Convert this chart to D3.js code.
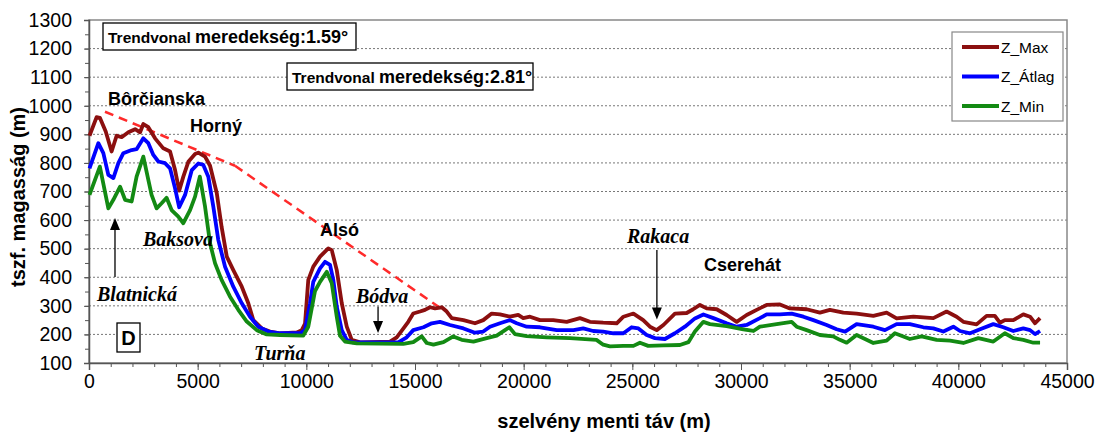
<!DOCTYPE html>
<html>
<head>
<meta charset="utf-8">
<script src="https://cdn.jsdelivr.net/npm/d3@7"></script>
<style>
  body { margin: 0; background: #fff; }
  svg { display: block; font-family: 'Liberation Sans', Arial, sans-serif; }
</style>
</head>
<body>
<div id="chart"></div>
<script>
// distance along profile (m), elevation (m)
var zMax = [[23,895],[350,960],[500,958],[770,910],[1040,840],[1270,895],[1500,890],[1810,907],[2120,918],[2350,907],[2500,936],[2730,925],[3040,886],[3420,851],[3730,840],[3960,775],[4150,703],[4340,752],[4570,804],[4880,831],[5030,836],[5340,822],[5570,790],[5880,694],[6100,577],[6340,472],[6640,425],[7030,367],[7330,309],[7560,250],[7950,221],[8330,210],[8790,204],[9560,207],[9790,215],[9940,238],[10090,391],[10320,437],[10630,472],[11010,501],[11170,495],[11400,425],[11630,309],[11860,227],[12090,181],[12470,172],[13850,175],[14160,190],[14460,220],[14690,244],[14920,273],[15230,280],[15460,286],[15690,295],[15920,291],[16230,295],[16460,280],[16690,257],[17230,250],[17760,239],[18140,250],[18530,273],[18910,270],[19370,262],[19750,268],[19980,257],[20290,262],[20750,250],[21360,250],[21980,244],[22590,257],[23050,244],[23660,241],[24280,239],[24590,262],[25050,273],[25500,250],[25810,227],[26120,215],[26430,233],[26960,273],[27500,275],[27800,288],[28110,303],[28420,291],[28880,288],[29340,268],[29800,244],[30260,268],[30720,286],[31180,303],[31790,305],[32250,291],[33020,288],[33630,276],[34090,286],[34710,276],[35320,273],[36090,265],[36700,276],[37160,256],[37930,262],[38850,257],[39460,280],[39920,262],[40230,244],[40840,235],[41300,265],[41680,265],[41910,241],[42140,250],[42530,250],[42990,270],[43300,262],[43530,239],[43760,257]];

var zAtlag = [[23,781],[430,869],[660,834],[890,758],[1120,747],[1350,799],[1580,834],[1960,845],[2190,848],[2500,886],[2730,869],[2960,828],[3190,805],[3500,799],[3730,781],[3960,711],[4150,645],[4420,688],[4730,775],[5030,798],[5260,793],[5490,752],[5720,647],[5950,530],[6260,437],[6640,367],[7030,309],[7410,262],[7790,227],[8250,210],[8790,204],[9710,204],[9940,215],[10170,309],[10320,384],[10630,431],[10860,454],[11090,443],[11240,391],[11400,297],[11630,215],[11860,181],[12160,172],[14230,172],[14620,190],[14920,215],[15390,225],[15770,239],[16150,244],[16610,233],[17230,221],[17760,206],[18140,210],[18450,227],[18910,239],[19370,250],[19680,239],[20140,227],[20750,225],[21520,215],[22290,215],[22740,221],[23200,212],[23660,210],[24130,204],[24590,204],[24970,225],[25280,221],[25660,198],[26040,187],[26500,184],[26960,204],[27420,227],[27880,256],[28270,270],[28730,257],[29340,239],[29800,227],[30260,233],[30870,257],[31180,270],[31790,270],[32330,273],[32870,262],[33330,250],[33940,233],[34400,218],[34790,210],[35320,236],[36090,227],[36620,215],[37160,236],[37770,236],[38390,225],[38850,221],[39310,210],[39770,227],[40080,212],[40540,204],[41000,218],[41610,236],[42070,225],[42530,212],[42990,221],[43300,215],[43530,201],[43760,212]];

var zMin = [[23,688],[500,787],[890,641],[1120,671],[1430,717],[1660,671],[1960,665],[2190,752],[2500,822],[2730,741],[2880,688],[3110,641],[3340,659],[3570,678],[3800,635],[4110,612],[4340,589],[4650,635],[4880,682],[5100,752],[5340,647],[5570,519],[5800,449],[6100,391],[6490,332],[6870,286],[7260,245],[7720,215],[8180,200],[8790,198],[9860,196],[10090,227],[10400,352],[10630,384],[10940,419],[11170,379],[11400,262],[11550,195],[11780,175],[12320,169],[14460,167],[14920,173],[15310,193],[15540,170],[15850,164],[16310,173],[16760,193],[17150,181],[17690,175],[18300,187],[18760,196],[19140,215],[19340,225],[19600,201],[20140,194],[21060,190],[22130,187],[23350,181],[23660,164],[23970,158],[24590,160],[25050,160],[25350,171],[25730,160],[26430,162],[27190,163],[27580,173],[27880,210],[28270,244],[28570,236],[29340,229],[30110,218],[30570,212],[30870,227],[31640,236],[32330,244],[32560,227],[33020,215],[33630,198],[34240,193],[34550,181],[34860,171],[35320,198],[36090,170],[36700,178],[37080,204],[37770,184],[38310,193],[39000,181],[39620,178],[40230,170],[40920,187],[41610,175],[42140,204],[42530,187],[42990,181],[43450,171],[43760,171]];

// two linear trend segments (dashed red)
var trend1 = [[736,979],[6718,790]];
var trend2 = [[6718,790],[16288,286]];

var xTickValues = [0,5000,10000,15000,20000,25000,30000,35000,40000,45000];
var yTickValues = [100,200,300,400,500,600,700,800,900,1000,1100,1200,1300];

var seriesNames = ['Z_Max', 'Z_Átlag', 'Z_Min'];
var seriesColors = ['#8b0f0f', '#0000ff', '#138a13'];

// place names: [label, distance, elevation, kind]
var places = [
  ['Bôrčianska', 874, 1003, 'ridge'],
  ['Horný', 4647, 908, 'ridge'],
  ['Alsó', 10630, 544, 'ridge'],
  ['Cserehát', 28300, 422, 'ridge'],
  ['Baksova', 2485, 509, 'river'],
  ['Blatnická', 368, 317, 'river'],
  ['Turňa', 7590, 110, 'river'],
  ['Bódva', 12285, 310, 'river'],
  ['Rakaca', 24755, 520, 'river']
];
// arrows: [distance, from elevation, to elevation]
var arrows = [[1196, 401, 607], [13300, 298, 205], [26130, 495, 252]];

var margin = { top: 20, right: 33, bottom: 72, left: 89 };
var width = 1100 - margin.left - margin.right;
var height = 435 - margin.top - margin.bottom;

var x = d3.scaleLinear().domain([0, 45000]).range([0, width]);
var y = d3.scaleLinear().domain([100, 1300]).range([height, 0]);

var svg = d3.select('#chart').append('svg')
    .attr('width', 1100)
    .attr('height', 435);

var g = svg.append('g')
    .attr('transform', `translate(${margin.left}, ${margin.top})`);

// grid lines
g.append('g')
    .selectAll('line')
    .data(yTickValues.slice(1, -1))
    .join('line')
    .attr('x1', 0).attr('x2', width)
    .attr('y1', d => y(d)).attr('y2', d => y(d))
    .attr('stroke', '#555')
    .attr('stroke-width', 0.8)
    .attr('stroke-dasharray', '2,2');

// frame
g.append('rect')
    .attr('width', width).attr('height', height)
    .attr('fill', 'none')
    .attr('stroke', '#888')
    .attr('stroke-width', 1.5);

// minor ticks
var xMinor = d3.axisBottom(x).tickValues(d3.range(0, 45001, 1000)).tickSize(4).tickFormat('');
var yMinor = d3.axisLeft(y).tickValues(d3.range(100, 1301, 50)).tickSize(4).tickFormat('');
g.append('g').attr('transform', `translate(0,${height})`).call(xMinor);
g.append('g').call(yMinor);

var xAxis = d3.axisBottom(x).tickValues(xTickValues).tickSize(7).tickPadding(4).tickFormat(d3.format('d'));
var yAxis = d3.axisLeft(y).tickValues(yTickValues).tickSize(5).tickPadding(12).tickFormat(d3.format('d'));

g.append('g').attr('class', 'x-axis')
    .attr('transform', `translate(0,${height})`)
    .call(xAxis);
g.append('g').attr('class', 'y-axis').call(yAxis);

g.selectAll('.x-axis text, .y-axis text')
    .style('font-size', '19.5px')
    .style('fill', '#000');
g.selectAll('.x-axis path, .y-axis path').attr('stroke', '#555').attr('stroke-width', 1.5);
g.selectAll('.tick line').attr('stroke', '#555');

// trend lines
[trend1, trend2].forEach(function (t) {
    g.append('path')
        .datum(t)
        .attr('fill', 'none')
        .attr('stroke', '#ff2a2a')
        .attr('stroke-width', 2.5)
        .attr('stroke-dasharray', '9,6')
        .attr('d', d3.line().x(d => x(d[0])).y(d => y(d[1])));
});

// profile lines
var line = d3.line().x(d => x(d[0])).y(d => y(d[1]));
[zMax, zAtlag, zMin].forEach(function (s, i) {
    g.append('path')
        .datum(s)
        .attr('fill', 'none')
        .attr('stroke', seriesColors[i])
        .attr('stroke-width', 3.8)
        .attr('stroke-linejoin', 'round')
        .attr('d', line);
});

// place names
g.selectAll('.place')
    .data(places)
    .join('text')
    .attr('class', 'place')
    .attr('x', d => x(d[1]))
    .attr('y', d => y(d[2]))
    .text(d => d[0])
    .style('font-weight', 'bold')
    .style('font-size', d => d[3] === 'ridge' ? '18px' : '20px')
    .style('font-style', d => d[3] === 'ridge' ? 'normal' : 'italic')
    .style('font-family', d => d[3] === 'ridge' ? "'Liberation Sans', Arial" : "'Liberation Serif', 'Times New Roman', serif");

// arrows
arrows.forEach(function (a) {
    var ax = x(a[0]), y0 = y(a[1]), y1 = y(a[2]);
    var dir = y1 < y0 ? 1 : -1;
    g.append('line')
        .attr('x1', ax).attr('x2', ax)
        .attr('y1', y0).attr('y2', y1 + dir * 10)
        .attr('stroke', '#000').attr('stroke-width', 1.3);
    g.append('path')
        .attr('d', `M${ax},${y1} L${ax - 5},${y1 + dir * 12} L${ax + 5},${y1 + dir * 12} Z`)
        .attr('fill', '#000');
});

// "D" box
var dBox = svg.append('g').attr('transform', 'translate(117,323)');
dBox.append('rect').attr('width', 23).attr('height', 29)
    .attr('fill', '#fff').attr('stroke', '#000').attr('stroke-width', 1.3);
dBox.append('text').attr('x', 11.5).attr('y', 22).attr('text-anchor', 'middle')
    .style('font-weight', 'bold').style('font-size', '20px').text('D');

// trend slope boxes
function slopeBox(bx, by, bw, value) {
    var b = svg.append('g').attr('transform', `translate(${bx},${by})`);
    b.append('rect').attr('width', bw).attr('height', 27)
        .attr('fill', '#fff').attr('stroke', '#000').attr('stroke-width', 1.3);
    var t = b.append('text').attr('x', 5).attr('y', 20).style('font-weight', 'bold');
    t.append('tspan').style('font-size', '15.5px').text('Trendvonal ');
    t.append('tspan').style('font-size', '18px').text('meredekség:' + value);
}
slopeBox(103, 23, 253, '1.59°');
slopeBox(287, 63, 246, '2.81°');

// legend
var legend = svg.append('g').attr('transform', 'translate(952,32)');
legend.append('rect').attr('width', 111).attr('height', 89)
    .attr('fill', '#fff').attr('stroke', '#888').attr('stroke-width', 1.2);
seriesNames.forEach(function (n, i) {
    var ly = 15 + i * 29.5;
    legend.append('line').attr('x1', 10).attr('x2', 47).attr('y1', ly).attr('y2', ly)
        .attr('stroke', seriesColors[i]).attr('stroke-width', 4);
    legend.append('text').attr('x', 49).attr('y', ly + 5.5)
        .style('font-size', '15.5px').text(n);
});

// axis titles
svg.append('text')
    .attr('x', 604).attr('y', 428)
    .attr('text-anchor', 'middle')
    .style('font-weight', 'bold').style('font-size', '20px')
    .text('szelvény menti táv (m)');

svg.append('text')
    .attr('transform', 'translate(25,197) rotate(-90)')
    .attr('text-anchor', 'middle')
    .style('font-weight', 'bold').style('font-size', '20px')
    .text('tszf. magasság (m)');
</script>
</body>
</html>
